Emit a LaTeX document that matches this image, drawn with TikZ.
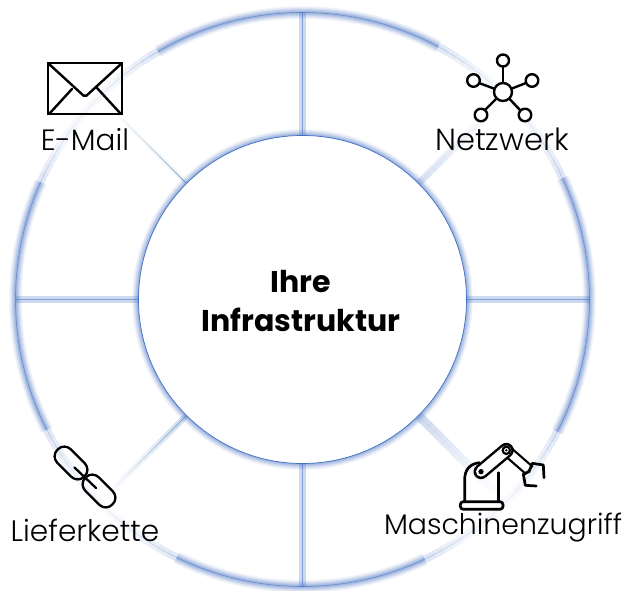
\documentclass[tikz,border=0pt]{standalone}
\usepackage{fontspec}
\setmainfont{Poppins}[UprightFont=* Light,BoldFont=* Bold]
\usetikzlibrary{calc}
\definecolor{ringblue}{RGB}{68,114,196}
\definecolor{tealline}{RGB}{60,130,160}
\newcommand{\glowarc}[3]{% start, end, radius
  \foreach \wd/\op in {13/.05,11/.07,9/.09,7/.11,5/.13,3/.15}{
    \draw[ringblue,line width=\wd pt,opacity=\op] ([shift={(#1:#3pt)}]hubc) arc[start angle=#1,end angle=#2,radius=#3pt];
  }
  \draw[ringblue,line width=.7pt,opacity=.6] ([shift={(#1:#3pt)}]hubc) arc[start angle=#1,end angle=#2,radius=#3pt];
}
\newcommand{\palearc}[2]{% start, end of a faint stretch of the outer ring
  \foreach \t in {0,...,17}{
    \pgfmathsetmacro{\aa}{#1+(#2-#1)*\t/18}
    \pgfmathsetmacro{\ab}{#1+(#2-#1)*(\t+1)/18}
    \pgfmathsetmacro{\op}{0.06+0.5*((\t+.5)/18-.5)^2*2}
    \draw[ringblue,line width=8pt,opacity=\op*.55] ([shift={(\aa:287pt)}]hubc) arc[start angle=\aa,end angle=\ab,radius=287pt];
    \draw[ringblue,line width=.6pt,opacity=\op+.05] ([shift={(\aa:287pt)}]hubc) arc[start angle=\aa,end angle=\ab,radius=287pt];
  }
}
\newcommand{\diagspoke}[5]{% angle, glow width, glow opacity, core colour, core opacity
  \foreach \t in {0,...,15}{
    \pgfmathsetmacro{\ra}{164+120*\t/16}
    \pgfmathsetmacro{\rb}{164+120*(\t+1)/16}
    \pgfmathsetmacro{\fo}{(1-\t/16)^1.5}
    \draw[ringblue,line width=#2pt,opacity=#3*\fo] ([shift={(#1:\ra pt)}]hubc) -- ([shift={(#1:\rb pt)}]hubc);
    \draw[#4,line width=.7pt,opacity=#5*\fo] ([shift={(#1:\ra pt)}]hubc) -- ([shift={(#1:\rb pt)}]hubc);
  }
}
\tikzset{
  spokeglow/.style={ringblue,line width=6.5pt,opacity=.26},
  spokecore/.style={ringblue,line width=1pt,opacity=.55},
  hubdisc/.style={circle,draw=ringblue,line width=.7pt,fill=white,minimum size=328pt,inner sep=0pt},
  iconline/.style={black,line width=2.7pt,line join=round,line cap=round},
  lbl/.style={text=black,inner sep=0pt},
  hubtext/.style={font=\fontsize{30}{39}\selectfont\bfseries,align=center,text=black,inner sep=0pt},
}
\begin{document}
\begin{tikzpicture}[x=1pt,y=1pt]
\useasboundingbox (0,0) rectangle (624,590);
\fill[white] (0,0) rectangle (624,590);
\coordinate (hubc) at (302.5,290.5);
% outer ring
\glowarc{61.8}{120.2}{287}
\glowarc{155.9}{207}{287}
\glowarc{244}{295.2}{287}
\glowarc{-27.4}{25}{287}
\palearc{25}{61.8}
\palearc{120.2}{155.9}
\palearc{207}{244}
\palearc{295.2}{332.6}
% inner glow
\glowarc{0}{360}{164}
% spokes
\foreach \a in {0,90,180,270}{
  \coordinate (inner\a) at ([shift={(\a:164pt)}]hubc);
  \coordinate (rim\a) at ([shift={(\a:287pt)}]hubc);
  \draw[spokeglow] (inner\a) -- (rim\a);
  \draw[spokecore] (inner\a) -- (rim\a);
}
\diagspoke{45}{7}{.20}{ringblue}{.10}
\diagspoke{135}{4}{.10}{tealline}{.85}
\diagspoke{225}{6}{.26}{tealline}{.8}
\diagspoke{315}{9}{.26}{ringblue}{.08}
% hub
\node[hubdisc] (hub) at (hubc) {};
\node[hubtext] (hubname) at (301,288.5) {Ihre\\Infrastruktur};
\begin{scope}[shift={(0,590)},y=-1pt]
  % labels
  \node[lbl,font=\fontsize{29.4}{32}\selectfont] (mail) at (85,140) {E-Mail};
  \node[lbl,font=\fontsize{30.5}{32}\selectfont] (net) at (502,139) {Netzwerk};
  \node[lbl,font=\fontsize{29.6}{32}\selectfont] (chain) at (85,530) {Lieferkette};
  \node[lbl,font=\fontsize{28.4}{32}\selectfont] (robot) at (503,528) {Maschinenzugriff};
  % envelope
  \draw[iconline,line join=miter] (48,63) rectangle (122,114);
  \draw[iconline,line width=2.4pt,rounded corners=2pt] (49,64) -- (85,97) -- (121,64);
  \draw[iconline,line width=2.4pt] (72,89) -- (50,113);
  \draw[iconline,line width=2.4pt] (97,88) -- (120,113);
  % network
  \draw[iconline,line width=2.4pt] (503,92) -- (503,67);
  \draw[iconline,line width=2.4pt] (503,92) -- (479,83);
  \draw[iconline,line width=2.4pt] (503,92) -- (526,83);
  \draw[iconline,line width=2.4pt] (503,92) -- (485,110);
  \draw[iconline,line width=2.4pt] (503,92) -- (520,110);
  \foreach \x/\y/\r in {503/92/9,503/60.5/6,473.5/80.5/6.3,532/80.5/6.3,481/115/6.3,525/115/6.3}
    \draw[iconline,line width=2.4pt,fill=white] (\x,\y) circle[radius=\r pt];
  % chain
  \draw[iconline,line width=2.3pt,rounded corners=9pt,rotate around={-45:(71,463)}] (52,453.5) rectangle (90,472.5);
  \draw[iconline,line width=2.3pt,rounded corners=9pt,rotate around={-45:(99,491)}] (80,481.5) rectangle (118,500.5);
  \draw[iconline,line width=2.3pt] (74.5,467.5) -- (96,488);
  % robot
  \begin{scope}[shift={(380,400)},x=.3333pt,y=-.3333pt]
    \draw[iconline,rounded corners=3pt] (241,305) rectangle (369,328);
    \draw[iconline] (254,305) -- (254,240) .. controls (254,210) and (268,192) .. (298,188);
    \draw[iconline] (355,305) -- (355,218);
    % upper arm
    \draw[black,line width=12pt,line cap=butt] (379,151) -- (449,212);
    \draw[white,line width=7.5pt,line cap=butt] (379,151) -- (445,208.5);
    % lower arm
    \draw[black,line width=15pt,line cap=round] (303,215) -- (379,151);
    \draw[white,line width=10pt,line cap=round] (303,215) -- (379,151);
    \draw[black,line width=2.2pt,fill=white] (379,151) circle[radius=11];
    \fill[black] (379,151) circle[radius=4];
    \fill[black] (303,215) circle[radius=8];
    \draw[iconline] (447,215) -- (457,190) -- (490,195) -- (492,233);
    \draw[iconline] (447,215) -- (430,222) -- (436,256) -- (469,258);
  \end{scope}
\end{scope}
\end{tikzpicture}
\end{document}
